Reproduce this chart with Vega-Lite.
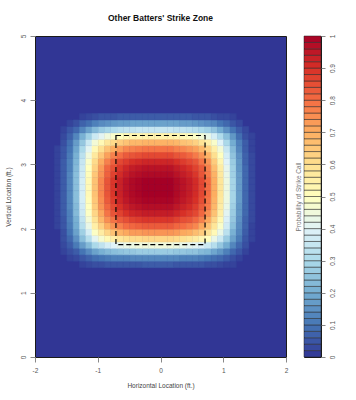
{
"$schema":"https://vega.github.io/schema/vega-lite/v6.json",
"padding":{"left":4,"top":13,"right":0,"bottom":0},
"background":"white",
"bounds":"flush",
"spacing":18,
"config":{"font":"Liberation Sans","axis":{"labelFont":"Liberation Sans","labelFontSize":6.5,"labelColor":"#555","titleFont":"Liberation Sans","titleFontSize":6.5,"titleColor":"#444","titleFontWeight":"normal","tickColor":"#888","tickSize":5,"domain":false,"grid":false,"labelPadding":4}},
"datasets":{
"bands":[{"lo":0,"hi":0.02,"p":0.01},{"lo":0.02,"hi":0.04,"p":0.03},{"lo":0.04,"hi":0.06,"p":0.05},{"lo":0.06,"hi":0.08,"p":0.07},{"lo":0.08,"hi":0.1,"p":0.09},{"lo":0.1,"hi":0.12,"p":0.11},{"lo":0.12,"hi":0.14,"p":0.13},{"lo":0.14,"hi":0.16,"p":0.15},{"lo":0.16,"hi":0.18,"p":0.17},{"lo":0.18,"hi":0.2,"p":0.19},{"lo":0.2,"hi":0.22,"p":0.21},{"lo":0.22,"hi":0.24,"p":0.23},{"lo":0.24,"hi":0.26,"p":0.25},{"lo":0.26,"hi":0.28,"p":0.27},{"lo":0.28,"hi":0.3,"p":0.29},{"lo":0.3,"hi":0.32,"p":0.31},{"lo":0.32,"hi":0.34,"p":0.33},{"lo":0.34,"hi":0.36,"p":0.35},{"lo":0.36,"hi":0.38,"p":0.37},{"lo":0.38,"hi":0.4,"p":0.39},{"lo":0.4,"hi":0.42,"p":0.41},{"lo":0.42,"hi":0.44,"p":0.43},{"lo":0.44,"hi":0.46,"p":0.45},{"lo":0.46,"hi":0.48,"p":0.47},{"lo":0.48,"hi":0.5,"p":0.49},{"lo":0.5,"hi":0.52,"p":0.51},{"lo":0.52,"hi":0.54,"p":0.53},{"lo":0.54,"hi":0.56,"p":0.55},{"lo":0.56,"hi":0.58,"p":0.57},{"lo":0.58,"hi":0.6,"p":0.59},{"lo":0.6,"hi":0.62,"p":0.61},{"lo":0.62,"hi":0.64,"p":0.63},{"lo":0.64,"hi":0.66,"p":0.65},{"lo":0.66,"hi":0.68,"p":0.67},{"lo":0.68,"hi":0.7,"p":0.69},{"lo":0.7,"hi":0.72,"p":0.71},{"lo":0.72,"hi":0.74,"p":0.73},{"lo":0.74,"hi":0.76,"p":0.75},{"lo":0.76,"hi":0.78,"p":0.77},{"lo":0.78,"hi":0.8,"p":0.79},{"lo":0.8,"hi":0.82,"p":0.81},{"lo":0.82,"hi":0.84,"p":0.83},{"lo":0.84,"hi":0.86,"p":0.85},{"lo":0.86,"hi":0.88,"p":0.87},{"lo":0.88,"hi":0.9,"p":0.89},{"lo":0.9,"hi":0.92,"p":0.91},{"lo":0.92,"hi":0.94,"p":0.93},{"lo":0.94,"hi":0.96,"p":0.95},{"lo":0.96,"hi":0.98,"p":0.97},{"lo":0.98,"hi":1,"p":0.99}],
"grid":[
{"x":-1.3,"y":1.4,"p":0.02},{"x":-1.2,"y":1.4,"p":0.03},{"x":-1.1,"y":1.4,"p":0.04},{"x":-1,"y":1.4,"p":0.04},{"x":-0.9,"y":1.4,"p":0.05},{"x":-0.8,"y":1.4,"p":0.05},{"x":-0.7,"y":1.4,"p":0.05},{"x":-0.6,"y":1.4,"p":0.05},{"x":-0.5,"y":1.4,"p":0.05},{"x":-0.4,"y":1.4,"p":0.05},{"x":-0.3,"y":1.4,"p":0.06},{"x":-0.2,"y":1.4,"p":0.06},{"x":-0.1,"y":1.4,"p":0.06},{"x":0,"y":1.4,"p":0.06},{"x":0.1,"y":1.4,"p":0.06},{"x":0.2,"y":1.4,"p":0.05},{"x":0.3,"y":1.4,"p":0.05},{"x":0.4,"y":1.4,"p":0.05},{"x":0.5,"y":1.4,"p":0.05},{"x":0.6,"y":1.4,"p":0.05},{"x":0.7,"y":1.4,"p":0.04},{"x":0.8,"y":1.4,"p":0.04},{"x":0.9,"y":1.4,"p":0.03},{"x":1,"y":1.4,"p":0.02},{"x":1.1,"y":1.4,"p":0.02},
{"x":-1.5,"y":1.5,"p":0.02},{"x":-1.4,"y":1.5,"p":0.03},{"x":-1.3,"y":1.5,"p":0.05},{"x":-1.2,"y":1.5,"p":0.07},{"x":-1.1,"y":1.5,"p":0.09},{"x":-1,"y":1.5,"p":0.1},{"x":-0.9,"y":1.5,"p":0.11},{"x":-0.8,"y":1.5,"p":0.12},{"x":-0.7,"y":1.5,"p":0.12},{"x":-0.6,"y":1.5,"p":0.12},{"x":-0.5,"y":1.5,"p":0.13},{"x":-0.4,"y":1.5,"p":0.13},{"x":-0.3,"y":1.5,"p":0.13},{"x":-0.2,"y":1.5,"p":0.13},{"x":-0.1,"y":1.5,"p":0.13},{"x":0,"y":1.5,"p":0.13},{"x":0.1,"y":1.5,"p":0.13},{"x":0.2,"y":1.5,"p":0.13},{"x":0.3,"y":1.5,"p":0.12},{"x":0.4,"y":1.5,"p":0.12},{"x":0.5,"y":1.5,"p":0.12},{"x":0.6,"y":1.5,"p":0.11},{"x":0.7,"y":1.5,"p":0.1},{"x":0.8,"y":1.5,"p":0.09},{"x":0.9,"y":1.5,"p":0.08},{"x":1,"y":1.5,"p":0.06},{"x":1.1,"y":1.5,"p":0.04},{"x":1.2,"y":1.5,"p":0.02},
{"x":-1.6,"y":1.6,"p":0.02},{"x":-1.5,"y":1.6,"p":0.04},{"x":-1.4,"y":1.6,"p":0.06},{"x":-1.3,"y":1.6,"p":0.1},{"x":-1.2,"y":1.6,"p":0.14},{"x":-1.1,"y":1.6,"p":0.18},{"x":-1,"y":1.6,"p":0.21},{"x":-0.9,"y":1.6,"p":0.23},{"x":-0.8,"y":1.6,"p":0.24},{"x":-0.7,"y":1.6,"p":0.25},{"x":-0.6,"y":1.6,"p":0.26},{"x":-0.5,"y":1.6,"p":0.26},{"x":-0.4,"y":1.6,"p":0.27},{"x":-0.3,"y":1.6,"p":0.27},{"x":-0.2,"y":1.6,"p":0.27},{"x":-0.1,"y":1.6,"p":0.27},{"x":0,"y":1.6,"p":0.27},{"x":0.1,"y":1.6,"p":0.27},{"x":0.2,"y":1.6,"p":0.26},{"x":0.3,"y":1.6,"p":0.26},{"x":0.4,"y":1.6,"p":0.25},{"x":0.5,"y":1.6,"p":0.25},{"x":0.6,"y":1.6,"p":0.23},{"x":0.7,"y":1.6,"p":0.22},{"x":0.8,"y":1.6,"p":0.19},{"x":0.9,"y":1.6,"p":0.16},{"x":1,"y":1.6,"p":0.12},{"x":1.1,"y":1.6,"p":0.08},{"x":1.2,"y":1.6,"p":0.05},{"x":1.3,"y":1.6,"p":0.02},
{"x":-1.6,"y":1.7,"p":0.03},{"x":-1.5,"y":1.7,"p":0.06},{"x":-1.4,"y":1.7,"p":0.11},{"x":-1.3,"y":1.7,"p":0.17},{"x":-1.2,"y":1.7,"p":0.23},{"x":-1.1,"y":1.7,"p":0.3},{"x":-1,"y":1.7,"p":0.34},{"x":-0.9,"y":1.7,"p":0.38},{"x":-0.8,"y":1.7,"p":0.4},{"x":-0.7,"y":1.7,"p":0.42},{"x":-0.6,"y":1.7,"p":0.43},{"x":-0.5,"y":1.7,"p":0.44},{"x":-0.4,"y":1.7,"p":0.45},{"x":-0.3,"y":1.7,"p":0.45},{"x":-0.2,"y":1.7,"p":0.45},{"x":-0.1,"y":1.7,"p":0.45},{"x":0,"y":1.7,"p":0.45},{"x":0.1,"y":1.7,"p":0.45},{"x":0.2,"y":1.7,"p":0.44},{"x":0.3,"y":1.7,"p":0.43},{"x":0.4,"y":1.7,"p":0.42},{"x":0.5,"y":1.7,"p":0.41},{"x":0.6,"y":1.7,"p":0.39},{"x":0.7,"y":1.7,"p":0.36},{"x":0.8,"y":1.7,"p":0.32},{"x":0.9,"y":1.7,"p":0.26},{"x":1,"y":1.7,"p":0.2},{"x":1.1,"y":1.7,"p":0.13},{"x":1.2,"y":1.7,"p":0.08},{"x":1.3,"y":1.7,"p":0.04},
{"x":-1.6,"y":1.8,"p":0.04},{"x":-1.5,"y":1.8,"p":0.08},{"x":-1.4,"y":1.8,"p":0.15},{"x":-1.3,"y":1.8,"p":0.24},{"x":-1.2,"y":1.8,"p":0.32},{"x":-1.1,"y":1.8,"p":0.41},{"x":-1,"y":1.8,"p":0.47},{"x":-0.9,"y":1.8,"p":0.52},{"x":-0.8,"y":1.8,"p":0.55},{"x":-0.7,"y":1.8,"p":0.58},{"x":-0.6,"y":1.8,"p":0.6},{"x":-0.5,"y":1.8,"p":0.61},{"x":-0.4,"y":1.8,"p":0.61},{"x":-0.3,"y":1.8,"p":0.62},{"x":-0.2,"y":1.8,"p":0.62},{"x":-0.1,"y":1.8,"p":0.62},{"x":0,"y":1.8,"p":0.62},{"x":0.1,"y":1.8,"p":0.62},{"x":0.2,"y":1.8,"p":0.61},{"x":0.3,"y":1.8,"p":0.6},{"x":0.4,"y":1.8,"p":0.58},{"x":0.5,"y":1.8,"p":0.56},{"x":0.6,"y":1.8,"p":0.53},{"x":0.7,"y":1.8,"p":0.5},{"x":0.8,"y":1.8,"p":0.43},{"x":0.9,"y":1.8,"p":0.36},{"x":1,"y":1.8,"p":0.27},{"x":1.1,"y":1.8,"p":0.18},{"x":1.2,"y":1.8,"p":0.11},{"x":1.3,"y":1.8,"p":0.05},{"x":1.4,"y":1.8,"p":0.02},
{"x":-1.6,"y":1.9,"p":0.04},{"x":-1.5,"y":1.9,"p":0.1},{"x":-1.4,"y":1.9,"p":0.18},{"x":-1.3,"y":1.9,"p":0.28},{"x":-1.2,"y":1.9,"p":0.38},{"x":-1.1,"y":1.9,"p":0.49},{"x":-1,"y":1.9,"p":0.56},{"x":-0.9,"y":1.9,"p":0.62},{"x":-0.8,"y":1.9,"p":0.66},{"x":-0.7,"y":1.9,"p":0.69},{"x":-0.6,"y":1.9,"p":0.71},{"x":-0.5,"y":1.9,"p":0.73},{"x":-0.4,"y":1.9,"p":0.73},{"x":-0.3,"y":1.9,"p":0.74},{"x":-0.2,"y":1.9,"p":0.74},{"x":-0.1,"y":1.9,"p":0.74},{"x":0,"y":1.9,"p":0.74},{"x":0.1,"y":1.9,"p":0.74},{"x":0.2,"y":1.9,"p":0.73},{"x":0.3,"y":1.9,"p":0.71},{"x":0.4,"y":1.9,"p":0.7},{"x":0.5,"y":1.9,"p":0.67},{"x":0.6,"y":1.9,"p":0.64},{"x":0.7,"y":1.9,"p":0.59},{"x":0.8,"y":1.9,"p":0.52},{"x":0.9,"y":1.9,"p":0.43},{"x":1,"y":1.9,"p":0.33},{"x":1.1,"y":1.9,"p":0.21},{"x":1.2,"y":1.9,"p":0.13},{"x":1.3,"y":1.9,"p":0.06},{"x":1.4,"y":1.9,"p":0.02},
{"x":-1.7,"y":2,"p":0.02},{"x":-1.6,"y":2,"p":0.05},{"x":-1.5,"y":2,"p":0.11},{"x":-1.4,"y":2,"p":0.2},{"x":-1.3,"y":2,"p":0.32},{"x":-1.2,"y":2,"p":0.43},{"x":-1.1,"y":2,"p":0.55},{"x":-1,"y":2,"p":0.63},{"x":-0.9,"y":2,"p":0.7},{"x":-0.8,"y":2,"p":0.74},{"x":-0.7,"y":2,"p":0.77},{"x":-0.6,"y":2,"p":0.8},{"x":-0.5,"y":2,"p":0.81},{"x":-0.4,"y":2,"p":0.82},{"x":-0.3,"y":2,"p":0.83},{"x":-0.2,"y":2,"p":0.83},{"x":-0.1,"y":2,"p":0.83},{"x":0,"y":2,"p":0.83},{"x":0.1,"y":2,"p":0.83},{"x":0.2,"y":2,"p":0.81},{"x":0.3,"y":2,"p":0.8},{"x":0.4,"y":2,"p":0.78},{"x":0.5,"y":2,"p":0.76},{"x":0.6,"y":2,"p":0.71},{"x":0.7,"y":2,"p":0.66},{"x":0.8,"y":2,"p":0.58},{"x":0.9,"y":2,"p":0.48},{"x":1,"y":2,"p":0.37},{"x":1.1,"y":2,"p":0.24},{"x":1.2,"y":2,"p":0.14},{"x":1.3,"y":2,"p":0.07},{"x":1.4,"y":2,"p":0.02},
{"x":-1.7,"y":2.1,"p":0.02},{"x":-1.6,"y":2.1,"p":0.05},{"x":-1.5,"y":2.1,"p":0.12},{"x":-1.4,"y":2.1,"p":0.21},{"x":-1.3,"y":2.1,"p":0.34},{"x":-1.2,"y":2.1,"p":0.46},{"x":-1.1,"y":2.1,"p":0.59},{"x":-1,"y":2.1,"p":0.68},{"x":-0.9,"y":2.1,"p":0.75},{"x":-0.8,"y":2.1,"p":0.79},{"x":-0.7,"y":2.1,"p":0.83},{"x":-0.6,"y":2.1,"p":0.85},{"x":-0.5,"y":2.1,"p":0.87},{"x":-0.4,"y":2.1,"p":0.88},{"x":-0.3,"y":2.1,"p":0.89},{"x":-0.2,"y":2.1,"p":0.89},{"x":-0.1,"y":2.1,"p":0.89},{"x":0,"y":2.1,"p":0.89},{"x":0.1,"y":2.1,"p":0.89},{"x":0.2,"y":2.1,"p":0.87},{"x":0.3,"y":2.1,"p":0.85},{"x":0.4,"y":2.1,"p":0.84},{"x":0.5,"y":2.1,"p":0.81},{"x":0.6,"y":2.1,"p":0.77},{"x":0.7,"y":2.1,"p":0.71},{"x":0.8,"y":2.1,"p":0.62},{"x":0.9,"y":2.1,"p":0.52},{"x":1,"y":2.1,"p":0.39},{"x":1.1,"y":2.1,"p":0.26},{"x":1.2,"y":2.1,"p":0.15},{"x":1.3,"y":2.1,"p":0.07},{"x":1.4,"y":2.1,"p":0.03},
{"x":-1.7,"y":2.2,"p":0.02},{"x":-1.6,"y":2.2,"p":0.06},{"x":-1.5,"y":2.2,"p":0.12},{"x":-1.4,"y":2.2,"p":0.23},{"x":-1.3,"y":2.2,"p":0.36},{"x":-1.2,"y":2.2,"p":0.49},{"x":-1.1,"y":2.2,"p":0.62},{"x":-1,"y":2.2,"p":0.71},{"x":-0.9,"y":2.2,"p":0.79},{"x":-0.8,"y":2.2,"p":0.84},{"x":-0.7,"y":2.2,"p":0.87},{"x":-0.6,"y":2.2,"p":0.9},{"x":-0.5,"y":2.2,"p":0.92},{"x":-0.4,"y":2.2,"p":0.93},{"x":-0.3,"y":2.2,"p":0.94},{"x":-0.2,"y":2.2,"p":0.94},{"x":-0.1,"y":2.2,"p":0.94},{"x":0,"y":2.2,"p":0.94},{"x":0.1,"y":2.2,"p":0.94},{"x":0.2,"y":2.2,"p":0.92},{"x":0.3,"y":2.2,"p":0.9},{"x":0.4,"y":2.2,"p":0.88},{"x":0.5,"y":2.2,"p":0.86},{"x":0.6,"y":2.2,"p":0.81},{"x":0.7,"y":2.2,"p":0.75},{"x":0.8,"y":2.2,"p":0.66},{"x":0.9,"y":2.2,"p":0.55},{"x":1,"y":2.2,"p":0.41},{"x":1.1,"y":2.2,"p":0.27},{"x":1.2,"y":2.2,"p":0.16},{"x":1.3,"y":2.2,"p":0.08},{"x":1.4,"y":2.2,"p":0.03},
{"x":-1.7,"y":2.3,"p":0.02},{"x":-1.6,"y":2.3,"p":0.06},{"x":-1.5,"y":2.3,"p":0.13},{"x":-1.4,"y":2.3,"p":0.23},{"x":-1.3,"y":2.3,"p":0.37},{"x":-1.2,"y":2.3,"p":0.5},{"x":-1.1,"y":2.3,"p":0.64},{"x":-1,"y":2.3,"p":0.74},{"x":-0.9,"y":2.3,"p":0.81},{"x":-0.8,"y":2.3,"p":0.86},{"x":-0.7,"y":2.3,"p":0.9},{"x":-0.6,"y":2.3,"p":0.93},{"x":-0.5,"y":2.3,"p":0.95},{"x":-0.4,"y":2.3,"p":0.96},{"x":-0.3,"y":2.3,"p":0.97},{"x":-0.2,"y":2.3,"p":0.97},{"x":-0.1,"y":2.3,"p":0.97},{"x":0,"y":2.3,"p":0.97},{"x":0.1,"y":2.3,"p":0.97},{"x":0.2,"y":2.3,"p":0.95},{"x":0.3,"y":2.3,"p":0.93},{"x":0.4,"y":2.3,"p":0.91},{"x":0.5,"y":2.3,"p":0.88},{"x":0.6,"y":2.3,"p":0.83},{"x":0.7,"y":2.3,"p":0.78},{"x":0.8,"y":2.3,"p":0.68},{"x":0.9,"y":2.3,"p":0.56},{"x":1,"y":2.3,"p":0.43},{"x":1.1,"y":2.3,"p":0.28},{"x":1.2,"y":2.3,"p":0.16},{"x":1.3,"y":2.3,"p":0.08},{"x":1.4,"y":2.3,"p":0.03},
{"x":-1.7,"y":2.4,"p":0.02},{"x":-1.6,"y":2.4,"p":0.06},{"x":-1.5,"y":2.4,"p":0.13},{"x":-1.4,"y":2.4,"p":0.24},{"x":-1.3,"y":2.4,"p":0.38},{"x":-1.2,"y":2.4,"p":0.51},{"x":-1.1,"y":2.4,"p":0.65},{"x":-1,"y":2.4,"p":0.75},{"x":-0.9,"y":2.4,"p":0.83},{"x":-0.8,"y":2.4,"p":0.88},{"x":-0.7,"y":2.4,"p":0.92},{"x":-0.6,"y":2.4,"p":0.95},{"x":-0.5,"y":2.4,"p":0.97},{"x":-0.4,"y":2.4,"p":0.98},{"x":-0.3,"y":2.4,"p":0.99},{"x":-0.2,"y":2.4,"p":0.99},{"x":-0.1,"y":2.4,"p":0.99},{"x":0,"y":2.4,"p":0.99},{"x":0.1,"y":2.4,"p":0.99},{"x":0.2,"y":2.4,"p":0.97},{"x":0.3,"y":2.4,"p":0.95},{"x":0.4,"y":2.4,"p":0.93},{"x":0.5,"y":2.4,"p":0.9},{"x":0.6,"y":2.4,"p":0.85},{"x":0.7,"y":2.4,"p":0.79},{"x":0.8,"y":2.4,"p":0.69},{"x":0.9,"y":2.4,"p":0.57},{"x":1,"y":2.4,"p":0.44},{"x":1.1,"y":2.4,"p":0.29},{"x":1.2,"y":2.4,"p":0.17},{"x":1.3,"y":2.4,"p":0.08},{"x":1.4,"y":2.4,"p":0.03},
{"x":-1.7,"y":2.5,"p":0.02},{"x":-1.6,"y":2.5,"p":0.06},{"x":-1.5,"y":2.5,"p":0.13},{"x":-1.4,"y":2.5,"p":0.24},{"x":-1.3,"y":2.5,"p":0.38},{"x":-1.2,"y":2.5,"p":0.52},{"x":-1.1,"y":2.5,"p":0.66},{"x":-1,"y":2.5,"p":0.76},{"x":-0.9,"y":2.5,"p":0.84},{"x":-0.8,"y":2.5,"p":0.89},{"x":-0.7,"y":2.5,"p":0.93},{"x":-0.6,"y":2.5,"p":0.96},{"x":-0.5,"y":2.5,"p":0.98},{"x":-0.4,"y":2.5,"p":0.99},{"x":-0.3,"y":2.5,"p":1},{"x":-0.2,"y":2.5,"p":1},{"x":-0.1,"y":2.5,"p":1},{"x":0,"y":2.5,"p":1},{"x":0.1,"y":2.5,"p":1},{"x":0.2,"y":2.5,"p":0.98},{"x":0.3,"y":2.5,"p":0.96},{"x":0.4,"y":2.5,"p":0.94},{"x":0.5,"y":2.5,"p":0.91},{"x":0.6,"y":2.5,"p":0.86},{"x":0.7,"y":2.5,"p":0.8},{"x":0.8,"y":2.5,"p":0.7},{"x":0.9,"y":2.5,"p":0.58},{"x":1,"y":2.5,"p":0.44},{"x":1.1,"y":2.5,"p":0.29},{"x":1.2,"y":2.5,"p":0.17},{"x":1.3,"y":2.5,"p":0.08},{"x":1.4,"y":2.5,"p":0.03},
{"x":-1.7,"y":2.6,"p":0.02},{"x":-1.6,"y":2.6,"p":0.06},{"x":-1.5,"y":2.6,"p":0.13},{"x":-1.4,"y":2.6,"p":0.24},{"x":-1.3,"y":2.6,"p":0.38},{"x":-1.2,"y":2.6,"p":0.52},{"x":-1.1,"y":2.6,"p":0.66},{"x":-1,"y":2.6,"p":0.76},{"x":-0.9,"y":2.6,"p":0.84},{"x":-0.8,"y":2.6,"p":0.89},{"x":-0.7,"y":2.6,"p":0.93},{"x":-0.6,"y":2.6,"p":0.96},{"x":-0.5,"y":2.6,"p":0.98},{"x":-0.4,"y":2.6,"p":0.99},{"x":-0.3,"y":2.6,"p":1},{"x":-0.2,"y":2.6,"p":1},{"x":-0.1,"y":2.6,"p":1},{"x":0,"y":2.6,"p":1},{"x":0.1,"y":2.6,"p":1},{"x":0.2,"y":2.6,"p":0.98},{"x":0.3,"y":2.6,"p":0.96},{"x":0.4,"y":2.6,"p":0.94},{"x":0.5,"y":2.6,"p":0.91},{"x":0.6,"y":2.6,"p":0.86},{"x":0.7,"y":2.6,"p":0.8},{"x":0.8,"y":2.6,"p":0.7},{"x":0.9,"y":2.6,"p":0.58},{"x":1,"y":2.6,"p":0.44},{"x":1.1,"y":2.6,"p":0.29},{"x":1.2,"y":2.6,"p":0.17},{"x":1.3,"y":2.6,"p":0.08},{"x":1.4,"y":2.6,"p":0.03},
{"x":-1.7,"y":2.7,"p":0.02},{"x":-1.6,"y":2.7,"p":0.06},{"x":-1.5,"y":2.7,"p":0.13},{"x":-1.4,"y":2.7,"p":0.24},{"x":-1.3,"y":2.7,"p":0.38},{"x":-1.2,"y":2.7,"p":0.52},{"x":-1.1,"y":2.7,"p":0.66},{"x":-1,"y":2.7,"p":0.76},{"x":-0.9,"y":2.7,"p":0.84},{"x":-0.8,"y":2.7,"p":0.89},{"x":-0.7,"y":2.7,"p":0.93},{"x":-0.6,"y":2.7,"p":0.96},{"x":-0.5,"y":2.7,"p":0.98},{"x":-0.4,"y":2.7,"p":0.99},{"x":-0.3,"y":2.7,"p":1},{"x":-0.2,"y":2.7,"p":1},{"x":-0.1,"y":2.7,"p":1},{"x":0,"y":2.7,"p":1},{"x":0.1,"y":2.7,"p":1},{"x":0.2,"y":2.7,"p":0.98},{"x":0.3,"y":2.7,"p":0.96},{"x":0.4,"y":2.7,"p":0.94},{"x":0.5,"y":2.7,"p":0.91},{"x":0.6,"y":2.7,"p":0.86},{"x":0.7,"y":2.7,"p":0.8},{"x":0.8,"y":2.7,"p":0.7},{"x":0.9,"y":2.7,"p":0.58},{"x":1,"y":2.7,"p":0.44},{"x":1.1,"y":2.7,"p":0.29},{"x":1.2,"y":2.7,"p":0.17},{"x":1.3,"y":2.7,"p":0.08},{"x":1.4,"y":2.7,"p":0.03},
{"x":-1.7,"y":2.8,"p":0.02},{"x":-1.6,"y":2.8,"p":0.06},{"x":-1.5,"y":2.8,"p":0.13},{"x":-1.4,"y":2.8,"p":0.24},{"x":-1.3,"y":2.8,"p":0.37},{"x":-1.2,"y":2.8,"p":0.51},{"x":-1.1,"y":2.8,"p":0.65},{"x":-1,"y":2.8,"p":0.74},{"x":-0.9,"y":2.8,"p":0.82},{"x":-0.8,"y":2.8,"p":0.87},{"x":-0.7,"y":2.8,"p":0.91},{"x":-0.6,"y":2.8,"p":0.94},{"x":-0.5,"y":2.8,"p":0.96},{"x":-0.4,"y":2.8,"p":0.97},{"x":-0.3,"y":2.8,"p":0.98},{"x":-0.2,"y":2.8,"p":0.98},{"x":-0.1,"y":2.8,"p":0.98},{"x":0,"y":2.8,"p":0.98},{"x":0.1,"y":2.8,"p":0.98},{"x":0.2,"y":2.8,"p":0.96},{"x":0.3,"y":2.8,"p":0.94},{"x":0.4,"y":2.8,"p":0.92},{"x":0.5,"y":2.8,"p":0.89},{"x":0.6,"y":2.8,"p":0.84},{"x":0.7,"y":2.8,"p":0.78},{"x":0.8,"y":2.8,"p":0.69},{"x":0.9,"y":2.8,"p":0.57},{"x":1,"y":2.8,"p":0.43},{"x":1.1,"y":2.8,"p":0.28},{"x":1.2,"y":2.8,"p":0.17},{"x":1.3,"y":2.8,"p":0.08},{"x":1.4,"y":2.8,"p":0.03},
{"x":-1.7,"y":2.9,"p":0.02},{"x":-1.6,"y":2.9,"p":0.06},{"x":-1.5,"y":2.9,"p":0.12},{"x":-1.4,"y":2.9,"p":0.23},{"x":-1.3,"y":2.9,"p":0.36},{"x":-1.2,"y":2.9,"p":0.5},{"x":-1.1,"y":2.9,"p":0.63},{"x":-1,"y":2.9,"p":0.73},{"x":-0.9,"y":2.9,"p":0.81},{"x":-0.8,"y":2.9,"p":0.85},{"x":-0.7,"y":2.9,"p":0.89},{"x":-0.6,"y":2.9,"p":0.92},{"x":-0.5,"y":2.9,"p":0.94},{"x":-0.4,"y":2.9,"p":0.95},{"x":-0.3,"y":2.9,"p":0.96},{"x":-0.2,"y":2.9,"p":0.96},{"x":-0.1,"y":2.9,"p":0.96},{"x":0,"y":2.9,"p":0.96},{"x":0.1,"y":2.9,"p":0.96},{"x":0.2,"y":2.9,"p":0.94},{"x":0.3,"y":2.9,"p":0.92},{"x":0.4,"y":2.9,"p":0.9},{"x":0.5,"y":2.9,"p":0.87},{"x":0.6,"y":2.9,"p":0.83},{"x":0.7,"y":2.9,"p":0.77},{"x":0.8,"y":2.9,"p":0.67},{"x":0.9,"y":2.9,"p":0.56},{"x":1,"y":2.9,"p":0.42},{"x":1.1,"y":2.9,"p":0.28},{"x":1.2,"y":2.9,"p":0.16},{"x":1.3,"y":2.9,"p":0.08},{"x":1.4,"y":2.9,"p":0.03},
{"x":-1.7,"y":3,"p":0.02},{"x":-1.6,"y":3,"p":0.06},{"x":-1.5,"y":3,"p":0.12},{"x":-1.4,"y":3,"p":0.22},{"x":-1.3,"y":3,"p":0.35},{"x":-1.2,"y":3,"p":0.48},{"x":-1.1,"y":3,"p":0.61},{"x":-1,"y":3,"p":0.7},{"x":-0.9,"y":3,"p":0.77},{"x":-0.8,"y":3,"p":0.82},{"x":-0.7,"y":3,"p":0.86},{"x":-0.6,"y":3,"p":0.88},{"x":-0.5,"y":3,"p":0.9},{"x":-0.4,"y":3,"p":0.91},{"x":-0.3,"y":3,"p":0.92},{"x":-0.2,"y":3,"p":0.92},{"x":-0.1,"y":3,"p":0.92},{"x":0,"y":3,"p":0.92},{"x":0.1,"y":3,"p":0.92},{"x":0.2,"y":3,"p":0.9},{"x":0.3,"y":3,"p":0.88},{"x":0.4,"y":3,"p":0.86},{"x":0.5,"y":3,"p":0.84},{"x":0.6,"y":3,"p":0.79},{"x":0.7,"y":3,"p":0.74},{"x":0.8,"y":3,"p":0.64},{"x":0.9,"y":3,"p":0.53},{"x":1,"y":3,"p":0.4},{"x":1.1,"y":3,"p":0.27},{"x":1.2,"y":3,"p":0.16},{"x":1.3,"y":3,"p":0.07},{"x":1.4,"y":3,"p":0.03},
{"x":-1.7,"y":3.1,"p":0.02},{"x":-1.6,"y":3.1,"p":0.05},{"x":-1.5,"y":3.1,"p":0.11},{"x":-1.4,"y":3.1,"p":0.21},{"x":-1.3,"y":3.1,"p":0.33},{"x":-1.2,"y":3.1,"p":0.45},{"x":-1.1,"y":3.1,"p":0.57},{"x":-1,"y":3.1,"p":0.65},{"x":-0.9,"y":3.1,"p":0.72},{"x":-0.8,"y":3.1,"p":0.77},{"x":-0.7,"y":3.1,"p":0.8},{"x":-0.6,"y":3.1,"p":0.83},{"x":-0.5,"y":3.1,"p":0.84},{"x":-0.4,"y":3.1,"p":0.85},{"x":-0.3,"y":3.1,"p":0.86},{"x":-0.2,"y":3.1,"p":0.86},{"x":-0.1,"y":3.1,"p":0.86},{"x":0,"y":3.1,"p":0.86},{"x":0.1,"y":3.1,"p":0.86},{"x":0.2,"y":3.1,"p":0.84},{"x":0.3,"y":3.1,"p":0.83},{"x":0.4,"y":3.1,"p":0.81},{"x":0.5,"y":3.1,"p":0.78},{"x":0.6,"y":3.1,"p":0.74},{"x":0.7,"y":3.1,"p":0.69},{"x":0.8,"y":3.1,"p":0.6},{"x":0.9,"y":3.1,"p":0.5},{"x":1,"y":3.1,"p":0.38},{"x":1.1,"y":3.1,"p":0.25},{"x":1.2,"y":3.1,"p":0.15},{"x":1.3,"y":3.1,"p":0.07},{"x":1.4,"y":3.1,"p":0.03},
{"x":-1.7,"y":3.2,"p":0.02},{"x":-1.6,"y":3.2,"p":0.05},{"x":-1.5,"y":3.2,"p":0.1},{"x":-1.4,"y":3.2,"p":0.19},{"x":-1.3,"y":3.2,"p":0.3},{"x":-1.2,"y":3.2,"p":0.41},{"x":-1.1,"y":3.2,"p":0.52},{"x":-1,"y":3.2,"p":0.6},{"x":-0.9,"y":3.2,"p":0.66},{"x":-0.8,"y":3.2,"p":0.7},{"x":-0.7,"y":3.2,"p":0.73},{"x":-0.6,"y":3.2,"p":0.76},{"x":-0.5,"y":3.2,"p":0.77},{"x":-0.4,"y":3.2,"p":0.78},{"x":-0.3,"y":3.2,"p":0.79},{"x":-0.2,"y":3.2,"p":0.79},{"x":-0.1,"y":3.2,"p":0.79},{"x":0,"y":3.2,"p":0.79},{"x":0.1,"y":3.2,"p":0.79},{"x":0.2,"y":3.2,"p":0.77},{"x":0.3,"y":3.2,"p":0.76},{"x":0.4,"y":3.2,"p":0.74},{"x":0.5,"y":3.2,"p":0.72},{"x":0.6,"y":3.2,"p":0.68},{"x":0.7,"y":3.2,"p":0.63},{"x":0.8,"y":3.2,"p":0.55},{"x":0.9,"y":3.2,"p":0.46},{"x":1,"y":3.2,"p":0.35},{"x":1.1,"y":3.2,"p":0.23},{"x":1.2,"y":3.2,"p":0.13},{"x":1.3,"y":3.2,"p":0.06},{"x":1.4,"y":3.2,"p":0.02},
{"x":-1.6,"y":3.3,"p":0.04},{"x":-1.5,"y":3.3,"p":0.09},{"x":-1.4,"y":3.3,"p":0.17},{"x":-1.3,"y":3.3,"p":0.26},{"x":-1.2,"y":3.3,"p":0.36},{"x":-1.1,"y":3.3,"p":0.46},{"x":-1,"y":3.3,"p":0.52},{"x":-0.9,"y":3.3,"p":0.58},{"x":-0.8,"y":3.3,"p":0.61},{"x":-0.7,"y":3.3,"p":0.64},{"x":-0.6,"y":3.3,"p":0.66},{"x":-0.5,"y":3.3,"p":0.68},{"x":-0.4,"y":3.3,"p":0.68},{"x":-0.3,"y":3.3,"p":0.69},{"x":-0.2,"y":3.3,"p":0.69},{"x":-0.1,"y":3.3,"p":0.69},{"x":0,"y":3.3,"p":0.69},{"x":0.1,"y":3.3,"p":0.69},{"x":0.2,"y":3.3,"p":0.68},{"x":0.3,"y":3.3,"p":0.66},{"x":0.4,"y":3.3,"p":0.65},{"x":0.5,"y":3.3,"p":0.63},{"x":0.6,"y":3.3,"p":0.59},{"x":0.7,"y":3.3,"p":0.55},{"x":0.8,"y":3.3,"p":0.48},{"x":0.9,"y":3.3,"p":0.4},{"x":1,"y":3.3,"p":0.3},{"x":1.1,"y":3.3,"p":0.2},{"x":1.2,"y":3.3,"p":0.12},{"x":1.3,"y":3.3,"p":0.06},{"x":1.4,"y":3.3,"p":0.02},
{"x":-1.6,"y":3.4,"p":0.03},{"x":-1.5,"y":3.4,"p":0.07},{"x":-1.4,"y":3.4,"p":0.13},{"x":-1.3,"y":3.4,"p":0.21},{"x":-1.2,"y":3.4,"p":0.28},{"x":-1.1,"y":3.4,"p":0.36},{"x":-1,"y":3.4,"p":0.41},{"x":-0.9,"y":3.4,"p":0.45},{"x":-0.8,"y":3.4,"p":0.48},{"x":-0.7,"y":3.4,"p":0.5},{"x":-0.6,"y":3.4,"p":0.52},{"x":-0.5,"y":3.4,"p":0.53},{"x":-0.4,"y":3.4,"p":0.53},{"x":-0.3,"y":3.4,"p":0.54},{"x":-0.2,"y":3.4,"p":0.54},{"x":-0.1,"y":3.4,"p":0.54},{"x":0,"y":3.4,"p":0.54},{"x":0.1,"y":3.4,"p":0.54},{"x":0.2,"y":3.4,"p":0.53},{"x":0.3,"y":3.4,"p":0.52},{"x":0.4,"y":3.4,"p":0.51},{"x":0.5,"y":3.4,"p":0.49},{"x":0.6,"y":3.4,"p":0.46},{"x":0.7,"y":3.4,"p":0.43},{"x":0.8,"y":3.4,"p":0.38},{"x":0.9,"y":3.4,"p":0.31},{"x":1,"y":3.4,"p":0.24},{"x":1.1,"y":3.4,"p":0.16},{"x":1.2,"y":3.4,"p":0.09},{"x":1.3,"y":3.4,"p":0.04},{"x":1.4,"y":3.4,"p":0.02},
{"x":-1.6,"y":3.5,"p":0.02},{"x":-1.5,"y":3.5,"p":0.05},{"x":-1.4,"y":3.5,"p":0.08},{"x":-1.3,"y":3.5,"p":0.13},{"x":-1.2,"y":3.5,"p":0.18},{"x":-1.1,"y":3.5,"p":0.23},{"x":-1,"y":3.5,"p":0.27},{"x":-0.9,"y":3.5,"p":0.29},{"x":-0.8,"y":3.5,"p":0.31},{"x":-0.7,"y":3.5,"p":0.33},{"x":-0.6,"y":3.5,"p":0.34},{"x":-0.5,"y":3.5,"p":0.34},{"x":-0.4,"y":3.5,"p":0.35},{"x":-0.3,"y":3.5,"p":0.35},{"x":-0.2,"y":3.5,"p":0.35},{"x":-0.1,"y":3.5,"p":0.35},{"x":0,"y":3.5,"p":0.35},{"x":0.1,"y":3.5,"p":0.35},{"x":0.2,"y":3.5,"p":0.34},{"x":0.3,"y":3.5,"p":0.34},{"x":0.4,"y":3.5,"p":0.33},{"x":0.5,"y":3.5,"p":0.32},{"x":0.6,"y":3.5,"p":0.3},{"x":0.7,"y":3.5,"p":0.28},{"x":0.8,"y":3.5,"p":0.25},{"x":0.9,"y":3.5,"p":0.2},{"x":1,"y":3.5,"p":0.15},{"x":1.1,"y":3.5,"p":0.1},{"x":1.2,"y":3.5,"p":0.06},{"x":1.3,"y":3.5,"p":0.03},
{"x":-1.5,"y":3.6,"p":0.02},{"x":-1.4,"y":3.6,"p":0.04},{"x":-1.3,"y":3.6,"p":0.07},{"x":-1.2,"y":3.6,"p":0.09},{"x":-1.1,"y":3.6,"p":0.12},{"x":-1,"y":3.6,"p":0.14},{"x":-0.9,"y":3.6,"p":0.15},{"x":-0.8,"y":3.6,"p":0.16},{"x":-0.7,"y":3.6,"p":0.17},{"x":-0.6,"y":3.6,"p":0.17},{"x":-0.5,"y":3.6,"p":0.18},{"x":-0.4,"y":3.6,"p":0.18},{"x":-0.3,"y":3.6,"p":0.18},{"x":-0.2,"y":3.6,"p":0.18},{"x":-0.1,"y":3.6,"p":0.18},{"x":0,"y":3.6,"p":0.18},{"x":0.1,"y":3.6,"p":0.18},{"x":0.2,"y":3.6,"p":0.18},{"x":0.3,"y":3.6,"p":0.17},{"x":0.4,"y":3.6,"p":0.17},{"x":0.5,"y":3.6,"p":0.16},{"x":0.6,"y":3.6,"p":0.15},{"x":0.7,"y":3.6,"p":0.14},{"x":0.8,"y":3.6,"p":0.13},{"x":0.9,"y":3.6,"p":0.1},{"x":1,"y":3.6,"p":0.08},{"x":1.1,"y":3.6,"p":0.05},{"x":1.2,"y":3.6,"p":0.03},
{"x":-1.3,"y":3.7,"p":0.02},{"x":-1.2,"y":3.7,"p":0.03},{"x":-1.1,"y":3.7,"p":0.04},{"x":-1,"y":3.7,"p":0.05},{"x":-0.9,"y":3.7,"p":0.05},{"x":-0.8,"y":3.7,"p":0.05},{"x":-0.7,"y":3.7,"p":0.06},{"x":-0.6,"y":3.7,"p":0.06},{"x":-0.5,"y":3.7,"p":0.06},{"x":-0.4,"y":3.7,"p":0.06},{"x":-0.3,"y":3.7,"p":0.06},{"x":-0.2,"y":3.7,"p":0.06},{"x":-0.1,"y":3.7,"p":0.06},{"x":0,"y":3.7,"p":0.06},{"x":0.1,"y":3.7,"p":0.06},{"x":0.2,"y":3.7,"p":0.06},{"x":0.3,"y":3.7,"p":0.06},{"x":0.4,"y":3.7,"p":0.06},{"x":0.5,"y":3.7,"p":0.05},{"x":0.6,"y":3.7,"p":0.05},{"x":0.7,"y":3.7,"p":0.05},{"x":0.8,"y":3.7,"p":0.04},{"x":0.9,"y":3.7,"p":0.03},{"x":1,"y":3.7,"p":0.03},{"x":1.1,"y":3.7,"p":0.02}
]},
"hconcat":[
{
"width":251,"height":321,
"title":{"text":"Other Batters' Strike Zone","fontSize":8.5,"fontWeight":"bold","color":"#111","offset":12,"anchor":"middle","font":"Liberation Sans"},
"view":{"fill":"#313695","stroke":"#1a1a1a","strokeWidth":1},
"layer":[
{"data":{"name":"grid"},
"mark":{"type":"rect","strokeWidth":0.5},
"encoding":{
"x":{"field":"x","type":"quantitative","bin":{"binned":true,"step":0.1},"title":"Horizontal Location (ft.)","scale":{"domain":[-2,2],"nice":false,"zero":false},"axis":{"values":[-2,-1,0,1,2],"labelExpr":"'' + datum.value","labelFlush":false,"labelPadding":5,"titlePadding":9}},
"y":{"field":"y","type":"quantitative","bin":{"binned":true,"step":0.1},"title":"Vertical Location (ft.)","scale":{"domain":[0,5],"nice":false,"zero":false},"axis":{"values":[0,1,2,3,4,5],"labelExpr":"'' + datum.value","labelAngle":-90,"labelAlign":"center","labelBaseline":"bottom","labelFlush":false,"titlePadding":9}},
"color":{"field":"p","type":"quantitative","legend":null,"scale":{"domain":[0,0.1,0.2,0.3,0.4,0.5,0.6,0.7,0.8,0.9,1],"range":["#313695","#4575b4","#74add1","#abd9e9","#e0f3f8","#ffffbf","#fee090","#fdae61","#f46d43","#d73027","#a50026"],"interpolate":"rgb"}},
"stroke":{"field":"p","type":"quantitative","legend":null,"scale":{"domain":[0,0.1,0.2,0.3,0.4,0.5,0.6,0.7,0.8,0.9,1],"range":["#313695","#4575b4","#74add1","#abd9e9","#e0f3f8","#ffffbf","#fee090","#fdae61","#f46d43","#d73027","#a50026"],"interpolate":"rgb"}}
}},
{"data":{"values":[{"left":-0.71,"right":0.71,"bottom":1.75,"top":3.45}]},
"mark":{"type":"rect","fillOpacity":0,"stroke":"#000","strokeWidth":1.2,"strokeDash":[5,3]},
"encoding":{
"x":{"field":"left","type":"quantitative","title":"Horizontal Location (ft.)"},
"x2":{"field":"right"},
"y":{"field":"bottom","type":"quantitative","title":"Vertical Location (ft.)"},
"y2":{"field":"top"}
}}
]
},
{
"width":17,"height":321,
"view":{"stroke":"#1a1a1a","strokeWidth":1},
"data":{"name":"bands"},
"mark":{"type":"rect","stroke":"#222","strokeWidth":0.5},
"encoding":{
"y":{"field":"lo","type":"quantitative","title":"Probability of Strike Call","scale":{"domain":[0,1],"nice":false,"zero":false},"axis":{"orient":"right","values":[0,0.1,0.2,0.3,0.4,0.5,0.6,0.7,0.8,0.9,1],"labelExpr":"'' + datum.value","labelAngle":-90,"labelAlign":"center","labelBaseline":"top","labelFlush":false,"tickSize":4,"titleAngle":-90,"titleX":-23,"titleY":160.5,"titleAlign":"center","titleBaseline":"middle","titleColor":"#777"}},
"y2":{"field":"hi"},
"color":{"field":"p","type":"quantitative","legend":null,"scale":{"domain":[0,0.1,0.2,0.3,0.4,0.5,0.6,0.7,0.8,0.9,1],"range":["#313695","#4575b4","#74add1","#abd9e9","#e0f3f8","#ffffbf","#fee090","#fdae61","#f46d43","#d73027","#a50026"],"interpolate":"rgb"}}
}
}
]
}
